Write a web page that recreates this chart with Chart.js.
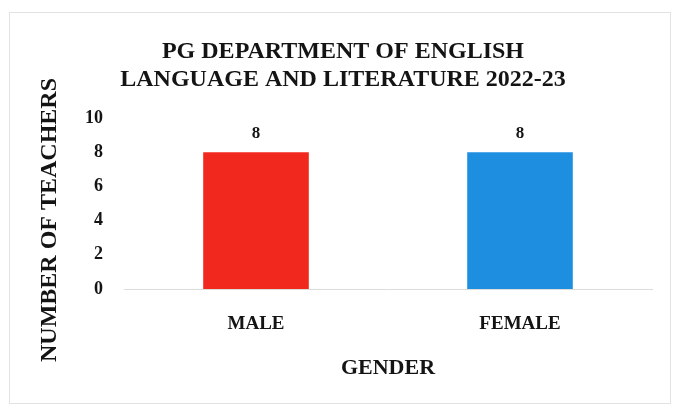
<!DOCTYPE html>
<html>
<head>
<meta charset="utf-8">
<script src="https://cdn.jsdelivr.net/npm/chart.js@4.4.1/dist/chart.umd.min.js"></script>
<style>
  html, body { margin: 0; padding: 0; background: #fff; }
  #wrap { position: relative; width: 674px; height: 412px; }
  #frame { position: absolute; left: 9px; top: 12px; width: 662px; height: 392px; border: 1px solid #e2e2e2; box-sizing: border-box; }
  canvas { position: absolute; left: 0; top: 0; }
</style>
</head>
<body>
<div id="wrap">
  <div id="frame"></div>
  <canvas id="chart" width="674" height="412"></canvas>
</div>
<script>
const titleLines = ["PG DEPARTMENT OF ENGLISH", "LANGUAGE AND LITERATURE 2022-23"];
const categories = ["MALE", "FEMALE"];
const teachers = [8, 8];
const barColors = ["#f0281e", "#1e8fe0"];
const yTicks = [0, 2, 4, 6, 8, 10];
const yTitle = "NUMBER OF TEACHERS";

const serif = "'Liberation Serif', 'Times New Roman', serif";
const ink = "#141414";

// value labels over the bars + the rotated y title (sits a bit lower than the axis middle)
const extraText = {
  id: "extraText",
  afterDatasetsDraw(chart) {
    const ctx = chart.ctx;
    const meta = chart.getDatasetMeta(0);
    ctx.save();
    ctx.font = "bold 17px " + serif;
    ctx.fillStyle = ink;
    ctx.textAlign = "center";
    ctx.textBaseline = "middle";
    meta.data.forEach((bar, i) => {
      ctx.fillText(String(teachers[i]), bar.x, bar.y - 19);
    });

    ctx.translate(50, 220);
    ctx.rotate(-Math.PI / 2);
    ctx.font = "bold 24px " + serif;
    ctx.fillText(yTitle, 0, 0);
    ctx.restore();
  }
};

new Chart(document.getElementById("chart"), {
  type: "bar",
  data: {
    labels: categories,
    datasets: [
      {
        data: teachers,
        backgroundColor: barColors,
        barPercentage: 0.5,
        categoryPercentage: 0.8,
      },
    ],
  },
  options: {
    responsive: false,
    animation: false,
    layout: { padding: { left: 34, right: 22, top: 26, bottom: 30 } },
    plugins: {
      legend: { display: false },
      tooltip: { enabled: false },
      title: {
        display: true,
        text: titleLines,
        color: ink,
        font: { family: serif, size: 24, weight: "bold", lineHeight: 1.17 },
        padding: { top: 12, bottom: 24 },
      },
    },
    scales: {
      x: {
        afterFit(scale) {
          scale.height = 93;
        },
        grid: { display: false },
        border: { display: true, color: "#dcdcdc", width: 1 },
        ticks: {
          color: ink,
          padding: 16,
          font: { family: serif, size: 19, weight: "bold" },
        },
        title: {
          display: true,
          text: "GENDER",
          color: ink,
          font: { family: serif, size: 22, weight: "bold" },
          padding: { top: 10, bottom: 0 },
        },
      },
      y: {
        min: 0,
        max: 10,
        afterBuildTicks(scale) {
          scale.ticks = yTicks.map((v) => ({ value: v }));
        },
        afterFit(scale) {
          scale.width = 90;
        },
        grid: { display: false },
        border: { display: false },
        ticks: {
          color: ink,
          padding: 13,
          font: { family: serif, size: 18, weight: "bold" },
        },
      },
    },
  },
  plugins: [extraText],
});
</script>
</body>
</html>
